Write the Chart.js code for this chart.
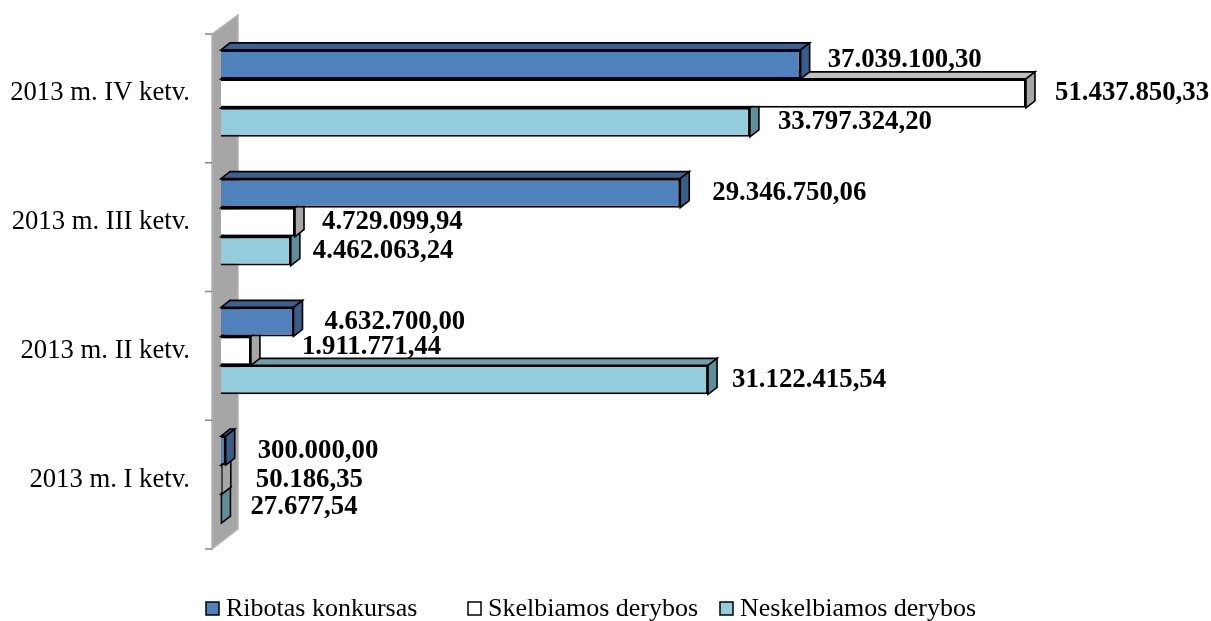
<!DOCTYPE html>
<html>
<head>
<meta charset="utf-8">
<style>
  html, body { margin: 0; padding: 0; background: #fff; }
  #wrap { position: relative; width: 1211px; height: 621px; }
</style>
<script src="https://cdn.jsdelivr.net/npm/chart.js@4"></script>
</head>
<body>
<div id="wrap"><canvas id="chart"></canvas></div>
<script>
const quarters = ['2013 m. IV ketv.', '2013 m. III ketv.', '2013 m. II ketv.', '2013 m. I ketv.'];
const ribotas = [37039100.30, 29346750.06, 4632700.00, 300000.00];
const skelbiamos = [51437850.33, 4729099.94, 1911771.44, 50186.35];
const neskelbiamos = [33797324.20, 4462063.24, 31122415.54, 27677.54];
const seriesNames = ['Ribotas konkursas', 'Skelbiamos derybos', 'Neskelbiamos derybos'];

// colours per series: front, side, top
const fronts = ['#4F81BD', '#FFFFFF', '#93CDDD'];
const sides = ['#385D8A', '#A6A6A6', '#5F8E9B'];
const tops = ['#3A6190', '#BFBFBF', '#6E9FAC'];

// manual label nudges, [dx, dy] from the end of each bar (they were dragged by hand in the original)
const labelNudge = [
  [[27, -4], [29, 0], [28, 0]],
  [[32, 0], [27, 0], [22, 0]],
  [[31, 0], [51, -4], [24, 0]],
  [[32, 0], [34, 0], [29, -2]]
];
const legendX = [206, 468, 720];

const DEPTH_X = 9, DEPTH_Y = 7;
const SERIF = '"Liberation Serif", "Times New Roman", serif';

const money = v => {
  const [a, b] = v.toFixed(2).split('.');
  return a.replace(/\B(?=(\d{3})+$)/g, '.') + ',' + b;
};

const poly = (ctx, pts, fill) => {
  ctx.beginPath();
  pts.forEach((p, i) => i ? ctx.lineTo(p[0], p[1]) : ctx.moveTo(p[0], p[1]));
  ctx.closePath();
  ctx.fillStyle = fill;
  ctx.fill();
  ctx.lineWidth = 1.6;
  ctx.strokeStyle = '#000';
  ctx.stroke();
};

const bar3d = {
  id: 'bar3d',
  beforeDatasetsDraw(chart) {
    const { ctx, chartArea, scales } = chart;
    const band = scales.y.getPixelForValue(1) - scales.y.getPixelForValue(0);
    const wallL = chartArea.left - 9, wallR = wallL + 26;
    const wallTop = chartArea.top + 5, wallBot = chartArea.bottom + 5;

    ctx.save();
    // back wall
    ctx.beginPath();
    ctx.moveTo(wallL, wallTop);
    ctx.lineTo(wallR, wallTop - 19);
    ctx.lineTo(wallR, wallBot - 20);
    ctx.lineTo(wallL, wallBot);
    ctx.closePath();
    ctx.fillStyle = '#A6A6A6';
    ctx.fill();
    ctx.strokeStyle = '#B4B4B4';
    ctx.lineWidth = 1.5;
    ctx.stroke();

    // axis ticks
    ctx.strokeStyle = '#868686';
    ctx.lineWidth = 1.5;
    for (let i = 0; i <= quarters.length; i++) {
      const y = wallTop + band * i;
      ctx.beginPath();
      ctx.moveTo(wallL - 7, y);
      ctx.lineTo(wallL, y);
      ctx.stroke();
    }

    // side and top faces, lowest series first so the upper side covers the lower top
    for (let d = chart.data.datasets.length - 1; d >= 0; d--) {
      chart.getDatasetMeta(d).data.forEach(el => {
        const t = el.y - el.height / 2, b = el.y + el.height / 2;
        const l = el.base, r = el.x;
        poly(ctx, [[l, t], [l + DEPTH_X, t - DEPTH_Y], [r + DEPTH_X, t - DEPTH_Y], [r, t]], tops[d]);
        poly(ctx, [[r, t], [r + DEPTH_X, t - DEPTH_Y], [r + DEPTH_X, b - DEPTH_Y], [r, b]], sides[d]);
      });
    }
    ctx.restore();
  },
  afterDatasetsDraw(chart) {
    const { ctx, chartArea } = chart;
    ctx.save();
    // value labels
    ctx.font = 'bold 26.8px ' + SERIF;
    ctx.fillStyle = '#000';
    ctx.textAlign = 'left';
    ctx.textBaseline = 'middle';
    chart.data.datasets.forEach((ds, d) => {
      chart.getDatasetMeta(d).data.forEach((el, i) => {
        const [dx, dy] = labelNudge[i][d];
        ctx.fillText(money(ds.data[i]), el.x + dx, el.y + dy);
      });
    });

    // legend: the gaps are uneven so the stock legend cannot place it
    const ly = chartArea.bottom + 65;
    ctx.font = '26px ' + SERIF;
    seriesNames.forEach((name, d) => {
      ctx.fillStyle = fronts[d];
      ctx.strokeStyle = '#000';
      ctx.lineWidth = 1.5;
      ctx.fillRect(legendX[d], ly - 7, 13, 13);
      ctx.strokeRect(legendX[d], ly - 7, 13, 13);
      ctx.fillStyle = '#000';
      ctx.fillText(name, legendX[d] + 20, ly);
    });
    ctx.restore();
  }
};

new Chart(document.getElementById('chart'), {
  type: 'bar',
  data: {
    labels: quarters,
    datasets: [ribotas, skelbiamos, neskelbiamos].map((data, d) => ({
      label: seriesNames[d],
      data,
      backgroundColor: fronts[d],
      borderColor: '#000',
      borderWidth: 2,
      categoryPercentage: 0.675,
      barPercentage: 1
    }))
  },
  options: {
    indexAxis: 'y',
    responsive: true,
    maintainAspectRatio: false,
    animation: false,
    layout: { padding: { top: 29, bottom: 77 } },
    plugins: {
      legend: { display: false },
      tooltip: { enabled: false }
    },
    scales: {
      x: { display: false, min: 0, max: 63260000 },
      y: {
        afterFit: s => { s.width = 221; },
        border: { display: false },
        // tick marks are invisible, tickLength only pushes the labels off the wall
        grid: { color: 'transparent', tickColor: 'transparent', tickLength: 31 },
        ticks: {
          color: '#000',
          padding: 0,
          font: { family: SERIF, size: 26.7 }
        }
      }
    }
  },
  plugins: [bar3d]
});
</script>
</body>
</html>
